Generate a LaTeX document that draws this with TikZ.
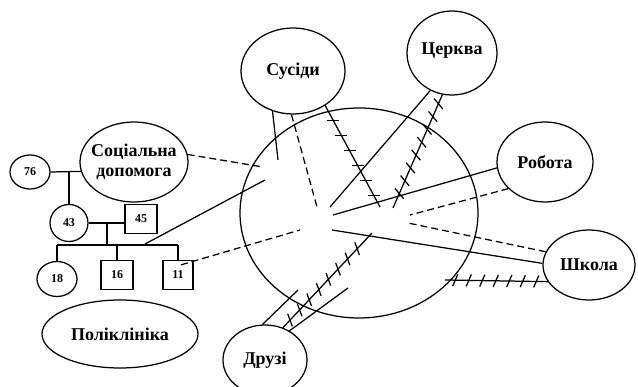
\documentclass[tikz,border=0pt]{standalone}
\usepackage{fontspec}
\setmainfont{Liberation Serif}
\usetikzlibrary{shapes.geometric}
\usetikzlibrary{calc}
\usetikzlibrary{decorations.markings}

\tikzset{
  place/.style={draw, ellipse, inner sep=0pt, font=\bfseries\fontsize{18}{20}\selectfont},
  person/.style={draw, ellipse, inner sep=0pt, font=\bfseries\fontsize{12}{14}\selectfont},
  male/.style={draw, rectangle, inner sep=0pt, minimum width=32pt, minimum height=29pt, font=\bfseries\fontsize{12}{14}\selectfont},
  weak/.style={dash pattern=on 7pt off 4pt},
  flathatch/.style={postaction={decorate, decoration={markings,
    mark=between positions 0.15 and 0.92 step 17pt with {\pgftransformresetnontranslations \draw (-6pt,0pt) -- (6pt,0pt);}}}},
  crosshatch/.style={postaction={decorate, decoration={markings,
    mark=between positions 0.08 and 0.92 step 14pt with {\draw (-3pt,-6pt) -- (3pt,6pt);}}}},
  slashhatch/.style={postaction={decorate, decoration={markings,
    mark=between positions 0.1 and 0.9 step 13.5pt with {\draw (-2.5pt,-6pt) -- (2.5pt,6pt);}}}}
}

\begin{document}
\begin{tikzpicture}[x=1pt, y=-1pt, line width=1.25pt]
  \clip (0,0) rectangle (638,387);
  \fill[white] (0,0) rectangle (638,387);

  % family circle
  \node[draw, ellipse, minimum width=238pt, minimum height=210pt] (family) at (359,213) {};

  % surroundings
  \node[place, minimum width=104pt, minimum height=86pt] (susidy) at (293,71) {Сусіди};
  \node[place, minimum width=90pt, minimum height=84pt, text depth=9pt] (cerkva) at (452,53) {Церква};
  \node[place, minimum width=96pt, minimum height=80pt] (robota) at (545,162) {Робота};
  \node[place, minimum width=92pt, minimum height=70pt] (shkola) at (589,265) {Школа};
  \node[place, minimum width=84pt, minimum height=70pt] (druzi) at (265,360) {Друзі};
  \node[place, minimum width=108pt, minimum height=80pt, inner sep=-5pt, align=center] (socdop) at (134,162) {Соціальна\\допомога};
  \node[place, minimum width=156pt, minimum height=68pt] (polik) at (120,334) {Поліклініка};

  % genogram
  \node[person, minimum width=40pt, minimum height=34pt] (p76) at (30,172) {76};
  \node[person, minimum width=38pt, minimum height=37pt] (p43) at (69,223) {43};
  \node[male] (p45) at (141,219) {45};
  \node[person, minimum width=40pt, minimum height=35pt] (p18) at (57,279) {18};
  \node[male] (p16) at (117,275) {16};
  \node[male, minimum width=30pt] (p11) at (178,275) {11};

  \coordinate (sibs) at (107,245);
  \draw (p76.east) -- (socdop.190.8);
  \draw (p43.north) -- (p43.north |- p76.east);
  \draw (p43.east) -- (p43.east -| p45.west);
  \draw (sibs |- p43.east) -- (sibs);
  \draw (p18.north |- sibs) -- (p11.north |- sibs);
  \foreach \k in {p18,p16,p11}
    \draw (\k.north) -- (\k.north |- sibs);

  % ends inside the family circle
  \coordinate (c1) at (263,167);
  \coordinate (c2a) at (145,244);
  \coordinate (c2b) at (265,180);
  \coordinate (c3) at (300,230);
  \coordinate (s1) at (278,160);
  \coordinate (s2) at (317,207);
  \coordinate (s3) at (380,207);
  \coordinate (k1) at (330,207);
  \coordinate (k2) at (393,208);
  \coordinate (r1) at (333,215);
  \coordinate (r2) at (410,215);
  \coordinate (h1) at (408,223);
  \coordinate (h2) at (332,230);
  \coordinate (h3) at (445,280);
  \coordinate (d1) at (298,290);
  \coordinate (d2) at (372,233);
  \coordinate (d3) at (348,288);

  % links
  \draw[weak] (socdop.8) -- (c1);
  \draw (c2a) -- (c2b);
  \draw[weak] ($(p11.north)+(3,5)$) -- (c3);
  \draw (susidy.243) -- (s1);
  \draw[weak] (susidy.268) -- (s2);
  \draw[flathatch] (susidy.313) -- (s3);
  \draw (cerkva.240) -- (k1);
  \draw[crosshatch] (cerkva.257) -- (k2);
  \draw (robota.187) -- (r1);
  \draw[weak] (robota.216) -- (r2);
  \draw[weak] (shkola.163) -- (h1);
  \draw (shkola.178) -- (h2);
  \draw[slashhatch] (h3) -- (shkola.202);
  \draw (druzi.94) -- (d1);
  \draw[crosshatch] (druzi.61) -- (d2);
  \draw (druzi.50) -- (d3);
\end{tikzpicture}
\end{document}
